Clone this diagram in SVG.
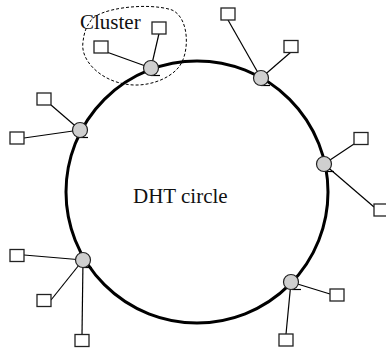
<svg xmlns="http://www.w3.org/2000/svg" width="386" height="349" viewBox="0 0 386 349">
  <style>
    .ring { fill: none; stroke: #000; stroke-width: 3; }
    .link { stroke: #000; stroke-width: 1.2; fill: none; }
    .peer { fill: #cfcfcf; stroke: #222; stroke-width: 1.2; }
    .tick { stroke: #000; stroke-width: 1.2; }
    .member { fill: #fff; stroke: #222; stroke-width: 1.3; }
    .cluster { fill: none; stroke: #000; stroke-width: 1; stroke-dasharray: 3 2; }
    .label { font-family: "Liberation Serif", "Times New Roman", serif; font-size: 21px; fill: #111; }
  </style>

  <!-- DHT ring -->
  <circle class="ring" cx="197" cy="192" r="131"/>
  <text class="label" x="133" y="203">DHT circle</text>

  <!-- cluster outline around the top peer -->
  <path class="cluster" d="M 90,22 C 96,8 148,2 172,10 C 190,18 190,55 178,68 C 168,80 145,88 125,84 C 100,80 80,60 83,42 C 84,33 86,27 90,22 Z"/>
  <text class="label" x="80" y="29">Cluster</text>

  <!-- links from peers to their cluster members -->
  <g id="connectors">
    <line class="link" x1="151" y1="68" x2="108" y2="52.5"/>
    <line class="link" x1="151" y1="68" x2="159" y2="33.5"/>
    <line class="link" x1="261" y1="78" x2="228" y2="20"/>
    <line class="link" x1="261" y1="78" x2="291" y2="52"/>
    <line class="link" x1="80" y1="130" x2="51" y2="105"/>
    <line class="link" x1="80" y1="130" x2="24" y2="138"/>
    <line class="link" x1="324" y1="164" x2="354" y2="144"/>
    <line class="link" x1="324" y1="164" x2="374" y2="207"/>
    <line class="link" x1="83" y1="260" x2="24" y2="255"/>
    <line class="link" x1="83" y1="260" x2="51" y2="300"/>
    <line class="link" x1="83" y1="260" x2="82" y2="334.5"/>
    <line class="link" x1="291" y1="282" x2="330" y2="294"/>
    <line class="link" x1="291" y1="282" x2="286" y2="334"/>
  </g>

  <!-- peers on the ring -->
  <g id="peer-top">
    <line class="tick" x1="151" y1="75.5" x2="160" y2="75.5"/>
    <circle class="peer" cx="151" cy="68" r="7.5"/>
  </g>
  <g id="peer-top-right">
    <line class="tick" x1="261" y1="85.5" x2="270" y2="85.5"/>
    <circle class="peer" cx="261" cy="78" r="7.5"/>
  </g>
  <g id="peer-left">
    <line class="tick" x1="79" y1="137.5" x2="88" y2="137.5"/>
    <circle class="peer" cx="80" cy="130" r="7.5"/>
  </g>
  <g id="peer-right">
    <line class="tick" x1="325" y1="171.5" x2="334" y2="171.5"/>
    <circle class="peer" cx="324" cy="164" r="7.5"/>
  </g>
  <g id="peer-bottom-left">
    <line class="tick" x1="83" y1="267.5" x2="92" y2="267.5"/>
    <circle class="peer" cx="83" cy="260" r="7.5"/>
  </g>
  <g id="peer-bottom-right">
    <line class="tick" x1="292" y1="289.5" x2="301" y2="289.5"/>
    <circle class="peer" cx="291" cy="282" r="7.5"/>
  </g>

  <!-- cluster members -->
  <g id="member-a1"><rect class="member" x="94" y="41" width="14" height="12"/></g>
  <g id="member-a2"><rect class="member" x="152" y="22" width="14" height="12"/></g>
  <g id="member-b1"><rect class="member" x="221" y="8" width="14" height="12"/></g>
  <g id="member-b2"><rect class="member" x="284" y="40.5" width="14" height="12"/></g>
  <g id="member-c1"><rect class="member" x="37" y="93" width="14" height="12"/></g>
  <g id="member-c2"><rect class="member" x="10" y="132" width="14" height="12"/></g>
  <g id="member-d1"><rect class="member" x="354" y="132.5" width="14" height="12"/></g>
  <g id="member-d2"><rect class="member" x="374" y="204" width="14" height="12"/></g>
  <g id="member-e1"><rect class="member" x="10" y="249.5" width="14" height="12"/></g>
  <g id="member-e2"><rect class="member" x="37" y="294.5" width="14" height="12"/></g>
  <g id="member-e3"><rect class="member" x="75" y="334.5" width="14" height="12"/></g>
  <g id="member-f1"><rect class="member" x="330" y="289" width="14" height="12"/></g>
  <g id="member-f2"><rect class="member" x="279" y="334" width="14" height="12"/></g>
</svg>
